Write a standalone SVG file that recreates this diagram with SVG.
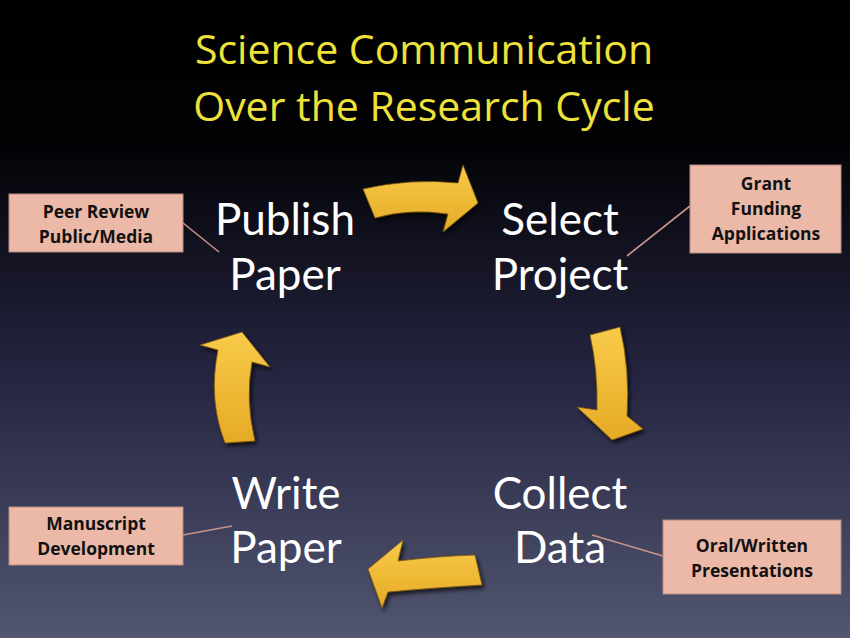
<svg xmlns="http://www.w3.org/2000/svg" width="850" height="638" viewBox="0 0 850 638">
<defs>
<linearGradient id="bg" x1="0" y1="0" x2="0" y2="1">
<stop offset="0" stop-color="#000000"/>
<stop offset="0.22" stop-color="#020205"/>
<stop offset="0.6" stop-color="#262643"/>
<stop offset="1" stop-color="#52566f"/>
</linearGradient>
<linearGradient id="gold" x1="0" y1="0" x2="0" y2="1">
<stop offset="0" stop-color="#f8cb4a"/>
<stop offset="1" stop-color="#e6aa25"/>
</linearGradient>
<filter id="sh" x="-30%" y="-30%" width="160%" height="160%">
<feDropShadow dx="2" dy="3" stdDeviation="2" flood-color="#000" flood-opacity="0.7"/>
</filter>
<style>
.title{font-family:"Open Sans","Liberation Sans",sans-serif;font-size:41px;fill:#ede13a;text-anchor:middle}
.big{font-family:Lato,"Open Sans",sans-serif;font-size:44px;fill:#ffffff;text-anchor:middle}
.box{fill:#ecb9a9;stroke:#b88a7e;stroke-width:1}
.bt{font-family:"Open Sans","Liberation Sans",sans-serif;font-size:17.5px;font-weight:bold;fill:#111;text-anchor:middle}
.arrow{fill:url(#gold);stroke:#7a5510;stroke-width:0.8;filter:url(#sh)}
.conn{stroke:#c99289;stroke-width:1.6;fill:none}
</style>
</defs>
<rect x="0" y="0" width="850" height="638" fill="url(#bg)"/>
<g id="title">
<text class="title" x="424" y="64">Science Communication</text>
<text class="title" x="424" y="121">Over the Research Cycle</text>
</g>
<g id="arrows">
<path class="arrow" d="M363,189 Q410,178 458,183 L463,165 L478,203 L443,232 L448,214 Q410,208 375,218 Z"/>
<path class="arrow" d="M590,335 L620,327 Q630,370 627,416 L643,429 L612,440 L577,407 L597,410 Q598,370 590,335 Z"/>
<path class="arrow" d="M475,555 Q440,556 398,561 L403,540 L368,569 L382,608 L388,592 Q430,588 482,585 Z"/>
<path class="arrow" d="M242,332 L270,367 L252,362 Q245,400 255,441 L225,443 Q208,400 218,350 L200,345 Z"/>
</g>
<g id="connectors">
<line class="conn" x1="183" y1="223" x2="219" y2="252"/>
<line class="conn" x1="690" y1="206" x2="627" y2="256"/>
<line class="conn" x1="183" y1="535" x2="232" y2="526"/>
<line class="conn" x1="663" y1="556" x2="592" y2="535"/>
</g>
<g id="publish"><text class="big" x="285" y="235">Publish</text><text class="big" x="285" y="290">Paper</text></g>
<g id="select"><text class="big" x="560" y="235">Select</text><text class="big" x="560" y="290">Project</text></g>
<g id="collect"><text class="big" x="560" y="509">Collect</text><text class="big" x="560" y="563">Data</text></g>
<g id="write"><text class="big" x="286" y="509">Write</text><text class="big" x="286" y="563">Paper</text></g>
<g id="peer"><rect class="box" x="9" y="194" width="174" height="58"/><text class="bt" x="96" y="218">Peer Review</text><text class="bt" x="96" y="243">Public/Media</text></g>
<g id="grant"><rect class="box" x="690" y="165" width="151" height="88"/><text class="bt" x="766" y="190">Grant</text><text class="bt" x="766" y="215">Funding</text><text class="bt" x="766" y="240">Applications</text></g>
<g id="manuscript"><rect class="box" x="9" y="507" width="174" height="58"/><text class="bt" x="96" y="530">Manuscript</text><text class="bt" x="96" y="555">Development</text></g>
<g id="oral"><rect class="box" x="663" y="520" width="178" height="74"/><text class="bt" x="752" y="552">Oral/Written</text><text class="bt" x="752" y="577">Presentations</text></g>
</svg>
